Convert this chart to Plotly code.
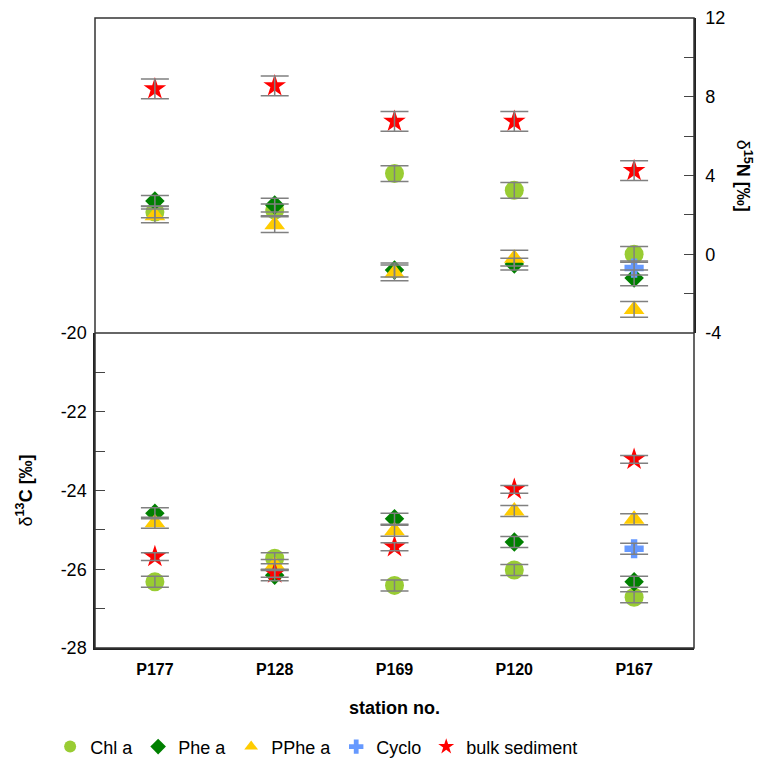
import plotly.graph_objects as go

stations = ["P177", "P128", "P169", "P120", "P167"]
series_names = ["Chl a", "Phe a", "PPhe a", "Cyclo", "bulk sediment"]

# delta 15N (top panel)
chl_n = [2.15, 2.25, 4.1, 3.25, 0.0]
chl_n_err = [0.3, 0.3, 0.4, 0.4, 0.4]
phe_n = [2.7, 2.5, -0.8, -0.5, -1.2]
phe_n_err = [0.28, 0.35, 0.35, 0.3, 0.4]
pphe_n = [1.95, 1.5, -0.95, -0.2, -2.8]
pphe_n_err = [0.35, 0.4, 0.4, 0.4, 0.4]
cyclo_n = [None, None, None, None, -0.7]
cyclo_n_err = [0, 0, 0, 0, 0.36]
bulk_n = [8.4, 8.55, 6.75, 6.75, 4.25]
bulk_n_err = [0.5, 0.5, 0.5, 0.5, 0.5]

# delta 13C (bottom panel)
chl_c = [-26.32, -25.72, -26.41, -26.02, -26.71]
chl_c_err = [0.14, 0.14, 0.14, 0.14, 0.14]
phe_c = [-24.58, -26.15, -24.72, -25.31, -26.32]
phe_c_err = [0.14, 0.14, 0.14, 0.14, 0.14]
pphe_c = [-24.82, -25.89, -25.02, -24.52, -24.73]
pphe_c_err = [0.14, 0.14, 0.14, 0.14, 0.14]
cyclo_c = [None, None, None, None, -25.48]
cyclo_c_err = [0, 0, 0, 0, 0.14]
bulk_c = [-25.68, -26.1, -25.43, -23.97, -23.21]
bulk_c_err = [0.1, 0.1, 0.1, 0.1, 0.1]

c_ticks = [-28, -26, -24, -22, -20]
c_labels = ["-28", "-26", "-24", "-22", "-20"]
n_ticks = [-4, 0, 4, 8, 12]
n_labels = ["-4", "0", "4", "8", "12"]

colors = ["#99CC33", "#008000", "#FFCC00", "#6699FF", "#FF0000"]
symbols = ["circle", "diamond", "triangle-up", "cross", "star"]
sizes = [19, 15, 18, 16, 17]

n_vals = [chl_n, phe_n, pphe_n, cyclo_n, bulk_n]
n_errs = [chl_n_err, phe_n_err, pphe_n_err, cyclo_n_err, bulk_n_err]
c_vals = [chl_c, phe_c, pphe_c, cyclo_c, bulk_c]
c_errs = [chl_c_err, phe_c_err, pphe_c_err, cyclo_c_err, bulk_c_err]

FONT = "Liberation Sans, Arial, sans-serif"
fig = go.Figure()

for i, name in enumerate(series_names):
    mk = dict(color=colors[i], symbol=symbols[i], size=sizes[i], line=dict(width=0))
    fig.add_trace(go.Scatter(x=stations, y=c_vals[i], mode="markers", name=name,
                             marker=mk, yaxis="y", legendgroup=name, showlegend=True))
    fig.add_trace(go.Scatter(x=stations, y=n_vals[i], mode="markers", name=name,
                             marker=mk, yaxis="y2", legendgroup=name, showlegend=False))

# error bars on top of markers
for i, name in enumerate(series_names):
    for vals, errs, ax in ((c_vals[i], c_errs[i], "y"), (n_vals[i], n_errs[i], "y2")):
        fig.add_trace(go.Scatter(
            x=stations, y=vals, mode="markers", yaxis=ax, showlegend=False,
            hoverinfo="skip", marker=dict(opacity=0, size=1),
            error_y=dict(type="data", array=errs, visible=True,
                         color="#808080", thickness=1.5, width=14)))

fig.update_layout(
    width=755, height=750,
    margin=dict(l=87, r=69, t=10, b=110, autoexpand=False),
    paper_bgcolor="white", plot_bgcolor="white",
    font=dict(family=FONT, size=18, color="black"),
    xaxis=dict(type="category", categoryorder="array", categoryarray=stations,
               range=[-0.5, 4.5], showline=True, linecolor="#222", linewidth=1.5,
               ticks="", showgrid=False, zeroline=False, automargin=False,
               tickfont=dict(family=FONT, size=16, color="black", weight="bold"),
               ticklabelstandoff=6),
    yaxis=dict(domain=[0, 0.5], range=[-28, -20], tickvals=c_ticks, ticktext=c_labels,
               ticks="inside", ticklen=10, tickcolor="#444", tickwidth=1.3,
               minor=dict(dtick=1, ticks="inside", ticklen=10, tickcolor="#444", tickwidth=1.3),
               showline=True, linecolor="#222", linewidth=1.5, automargin=False,
               showgrid=False, zeroline=False, tickfont=dict(size=18),
               ticklabelstandoff=3),
    yaxis2=dict(domain=[0.5, 1], range=[-4, 12], tickvals=n_ticks, ticktext=n_labels,
                anchor="x", side="right",
                ticks="inside", ticklen=10, tickcolor="#444", tickwidth=1.3,
                minor=dict(dtick=2, tick0=-4, ticks="inside", ticklen=10, tickcolor="#444", tickwidth=1.3),
                showline=True, linecolor="#222", linewidth=1.5, automargin=False,
                showgrid=False, zeroline=False, tickfont=dict(size=18),
                ticklabelstandoff=6),
    legend=dict(orientation="h", x=0.37, xanchor="center", y=-0.157, yanchor="middle",
                font=dict(size=18, color="black"), itemsizing="constant"),
    shapes=[
        dict(type="rect", xref="paper", yref="paper", x0=0, x1=1, y0=0, y1=1,
             line=dict(color="#333", width=1.5)),
        dict(type="line", xref="paper", yref="paper", x0=0, x1=1, y0=0.5, y1=0.5,
             line=dict(color="#333", width=1.5)),
    ],
    annotations=[
        dict(text="δ<b><sup>13</sup>C [‰]</b>", xref="paper", yref="paper",
             x=-0.117, y=0.25, xanchor="center", yanchor="middle", textangle=-90,
             showarrow=False, font=dict(size=18, color="black")),
        dict(text="δ<b><sup>15</sup>N [‰]</b>", xref="paper", yref="paper",
             x=1.083, y=0.75, xanchor="center", yanchor="middle", textangle=90,
             showarrow=False, font=dict(size=18, color="black")),
        dict(text="<b>station no.</b>", xref="paper", yref="paper",
             x=0.5, y=-0.095, xanchor="center", yanchor="middle",
             showarrow=False, font=dict(size=18, color="black")),
    ],
)

fig.write_html("out.html")
